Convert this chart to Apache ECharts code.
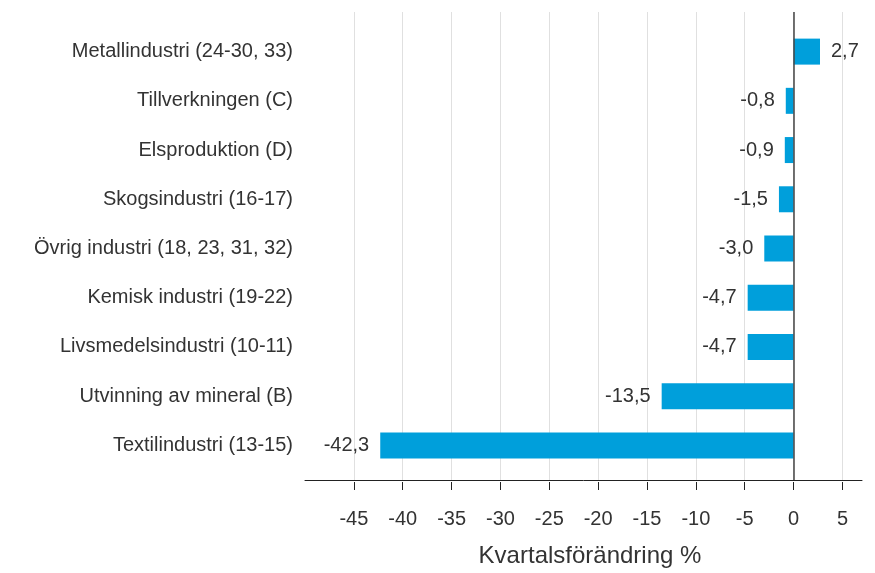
<!DOCTYPE html>
<html>
<head>
<meta charset="utf-8">
<script src="https://cdn.jsdelivr.net/npm/echarts@6/dist/echarts.min.js"></script>
<style>html,body{margin:0;padding:0;background:#fff;}#c{width:875px;height:573px;}</style>
</head>
<body>
<div id="c"></div>
<script>
var categories = [
  'Metallindustri (24-30, 33)',
  'Tillverkningen (C)',
  'Elsproduktion (D)',
  'Skogsindustri (16-17)',
  'Övrig industri (18, 23, 31, 32)',
  'Kemisk industri (19-22)',
  'Livsmedelsindustri (10-11)',
  'Utvinning av mineral (B)',
  'Textilindustri (13-15)'
];
var values = [2.7, -0.8, -0.9, -1.5, -3.0, -4.7, -4.7, -13.5, -42.3];
var tickValues = [-45, -40, -35, -30, -25, -20, -15, -10, -5, 0, 5];
var axisTitle = 'Kvartalsförändring %';

var FONT = '"Liberation Sans", Arial, sans-serif';
function fmt(v) { return v.toFixed(1).replace('.', ','); }

var chart = echarts.init(document.getElementById('c'));
chart.setOption({
  animation: false,
  backgroundColor: '#ffffff',
  grid: [
    {left: 305, right: 13, top: 27, height: 443},
    {left: 305, right: 13, top: 12, height: 470},
    {left: 305, right: 13, top: 482, height: 8}
  ],
  xAxis: [
    {gridIndex: 0, type: 'value', min: -50, max: 7, interval: 5, show: false},
    {
      gridIndex: 1, type: 'value', min: -50, max: 7, interval: 5,
      name: axisTitle, nameLocation: 'middle', nameGap: 64,
      nameTextStyle: {fontFamily: FONT, fontSize: 24, color: '#333', padding: [0, 0, 0, 13]},
      axisLine: {show: true, onZero: false, lineStyle: {color: '#222', width: 1}},
      axisTick: {show: false},
      axisLabel: {customValues: tickValues, margin: 29, fontFamily: FONT, fontSize: 20, color: '#333'},
      splitLine: {show: true, showMinLine: false, showMaxLine: false, lineStyle: {color: '#e0e0e0', width: 1}}
    },
    {
      gridIndex: 2, type: 'value', min: -50, max: 7, interval: 5,
      axisLine: {show: false}, axisTick: {show: false}, axisLabel: {show: false},
      splitLine: {show: true, showMinLine: false, showMaxLine: false, lineStyle: {color: '#222', width: 1}}
    }
  ],
  yAxis: [
    {
      gridIndex: 0, type: 'category', data: categories, inverse: true,
      axisLine: {show: false}, axisTick: {show: false},
      axisLabel: {margin: 12, fontFamily: FONT, fontSize: 20, color: '#333'}
    },
    {gridIndex: 1, type: 'value', show: false, min: 0, max: 1},
    {gridIndex: 2, type: 'value', show: false, min: 0, max: 1}
  ],
  series: [
    {
      type: 'bar', xAxisIndex: 0, yAxisIndex: 0, barWidth: 26,
      data: values.map(function (v) {
        return {value: v, label: {position: v < 0 ? 'left' : 'right'}};
      }),
      itemStyle: {color: '#009fdb'},
      label: {
        show: true, fontFamily: FONT, fontSize: 20, color: '#333', distance: 11,
        formatter: function (p) { return fmt(p.value); }
      }
    },
    {
      type: 'line', xAxisIndex: 1, yAxisIndex: 1, data: [], silent: true,
      markLine: {
        silent: true, symbol: 'none', label: {show: false},
        lineStyle: {color: '#444', width: 1.5, type: 'solid'},
        data: [{xAxis: 0}]
      }
    }
  ]
});
</script>
</body>
</html>
